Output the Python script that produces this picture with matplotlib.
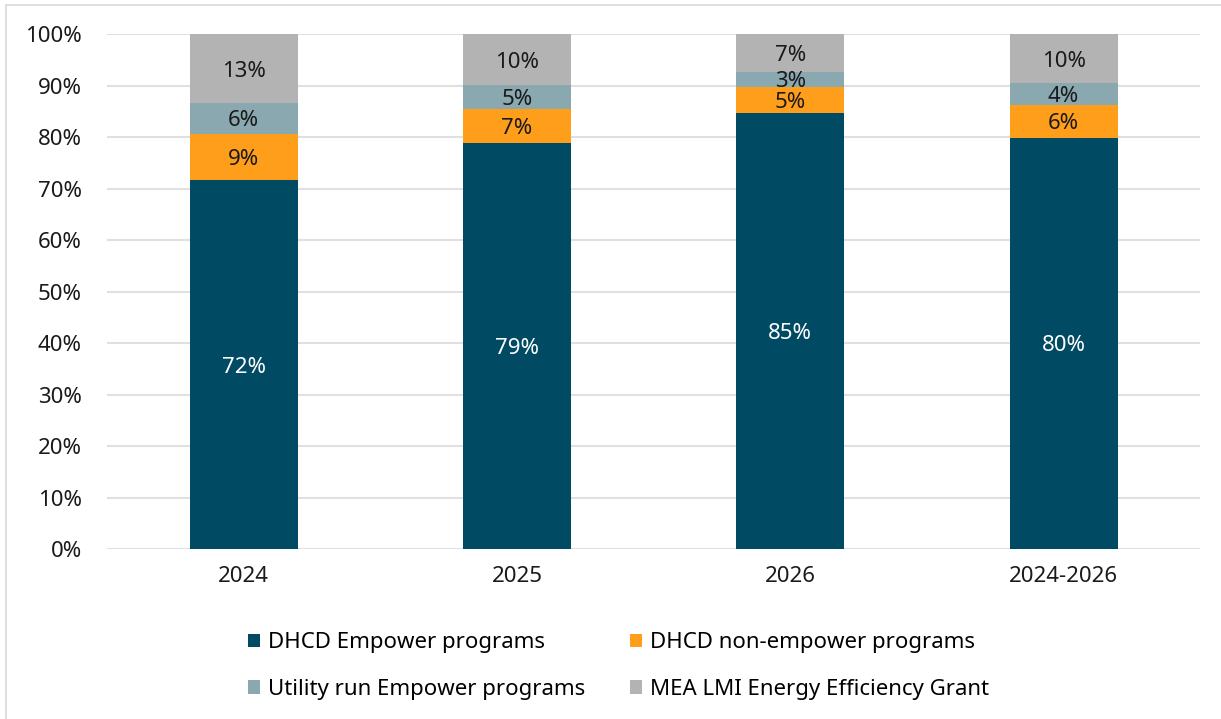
import numpy as np
import matplotlib.pyplot as plt
from matplotlib.patches import Rectangle

plt.rcParams['font.family'] = ['Noto Sans', 'DejaVu Sans']

years = ['2024', '2025', '2026', '2024-2026']
series_names = ['DHCD Empower programs', 'DHCD non-empower programs',
                'Utility run Empower programs', 'MEA LMI Energy Efficiency Grant']

# share of funding by source, percent
dhcd_empower = [71.6, 78.8, 84.7, 79.9]
dhcd_non_empower = [9.0, 6.7, 5.0, 6.3]
utility_empower = [6.0, 4.6, 3.0, 4.2]
mea_grant = [13.4, 9.9, 7.3, 9.6]

colors = ['#004B63', '#FF9E1B', '#8AA8B0', '#B3B3B3']
text_colors = ['white', '#1a1a1a', '#1a1a1a', '#1a1a1a']

fig = plt.figure(figsize=(12.21, 7.19), dpi=100)
ax = fig.add_axes([0.0876, 0.2364, 0.8954, 0.7163])

# thin outer frame
fig.patches.append(Rectangle((6 / 1221, -0.01), 1.02, 1 - 5 / 719 + 0.01,
                             transform=fig.transFigure, fill=False,
                             edgecolor='#d9d9d9', linewidth=1.2))

x = np.arange(len(years))
bottom = np.zeros(len(years))
handles = []
for vals, name, c, tc in zip([dhcd_empower, dhcd_non_empower, utility_empower, mea_grant],
                             series_names, colors, text_colors):
    vals = np.array(vals)
    h = ax.bar(x, vals, 0.395, bottom=bottom, color=c, label=name, zorder=3)
    handles.append(h)
    for xi, b, v in zip(x, bottom, vals):
        ax.text(xi, b + v / 2, f'{v:.0f}%', ha='center', va='center_baseline',
                fontsize=16, color=tc, zorder=4)
    bottom += vals

ax.set_xlim(-0.5, 3.5)
ax.set_ylim(0, 100)
ax.set_yticks(range(0, 101, 10))
ax.set_yticklabels([f'{v}%' for v in range(0, 101, 10)])
ax.set_xticks(x)
ax.set_xticklabels(years)
ax.tick_params(axis='both', length=0, labelsize=16, colors='#1a1a1a')
ax.tick_params(axis='x', pad=12)
ax.tick_params(axis='y', pad=18)
ax.grid(axis='y', color='#e0e0e0', linewidth=1.5, zorder=0)
for s in ax.spines.values():
    s.set_visible(False)

# legend reads across rows: reorder for matplotlib's column-first filling
order = [0, 2, 1, 3]
ax.legend([handles[i] for i in order], [series_names[i] for i in order],
          loc='upper left', bbox_to_anchor=(0.1107, -0.1225), ncol=2, frameon=False,
          fontsize=16, handlelength=0.55, handleheight=0.55, handletextpad=0.35,
          columnspacing=2.0, labelspacing=1.15)

fig.savefig('out.png', dpi=100)
